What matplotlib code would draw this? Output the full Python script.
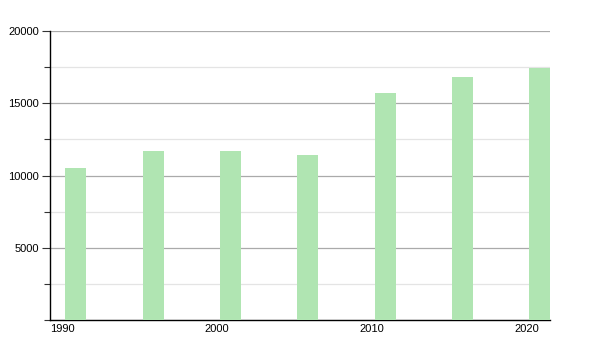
import matplotlib
matplotlib.use("Agg")
import matplotlib.pyplot as plt
from matplotlib.ticker import MultipleLocator
import matplotlib.transforms as mtransforms

years = [1991, 1996, 2001, 2006, 2011, 2016, 2021]
values = [10500, 11700, 11700, 11420, 15720, 16830, 17470]
xticks = [1990, 2000, 2010, 2020]
yticks = [5000, 10000, 15000, 20000]

plt.rcParams['font.family'] = ['Liberation Sans', 'DejaVu Sans']
fig = plt.figure(figsize=(6, 3.5), dpi=100)
ax = fig.add_axes([50/600, 30/350, 500/600, 289/350])

ax.bar(years, values, width=1.36, align='edge', color='#b0e5b2', zorder=3)

ax.set_xlim(1990, 2022.33)
ax.set_ylim(0, 20000)
ax.yaxis.set_major_locator(MultipleLocator(5000))
ax.yaxis.set_minor_locator(MultipleLocator(2500))
ax.set_yticks(yticks)
ax.set_xticks(xticks)
ax.set_xticklabels([str(t) for t in xticks], fontsize=8, ha='left')
offset = mtransforms.ScaledTranslation(-3/100, 0, fig.dpi_scale_trans)
for lab in ax.get_xticklabels():
    lab.set_transform(lab.get_transform() + offset)
ax.tick_params(axis='x', length=0, pad=3)
ax.tick_params(axis='y', which='major', length=6, width=0.8, labelsize=8, pad=2, color='#333333')
ax.tick_params(axis='y', which='minor', length=4, width=0.8, color='#333333')

ax.grid(axis='y', which='major', color='#aaaaaa', linewidth=0.9, zorder=0)
ax.grid(axis='y', which='minor', color='#e4e4e4', linewidth=0.9, zorder=0)
ax.set_axisbelow(True)

for s in ['top', 'right']:
    ax.spines[s].set_visible(False)
ax.spines['left'].set_color('black')
ax.spines['bottom'].set_color('black')
ax.spines['left'].set_linewidth(1.0)
ax.spines['bottom'].set_linewidth(1.0)

fig.savefig('out.png', dpi=100)
